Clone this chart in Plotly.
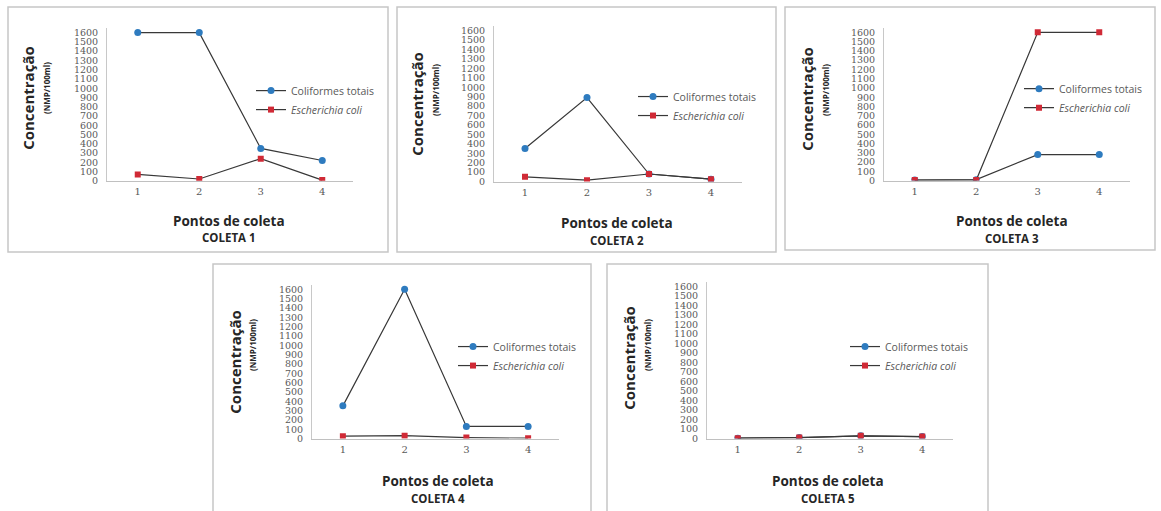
import plotly.graph_objects as go

W, H = 1161, 511

pontos = [1, 2, 3, 4]
y_ticks = list(range(0, 1700, 100))

coleta1_coliformes = [1600, 1600, 350, 220]
coleta1_ecoli = [70, 20, 240, 8]
coleta2_coliformes = [350, 890, 80, 25]
coleta2_ecoli = [50, 15, 80, 25]
coleta3_coliformes = [5, 10, 280, 280]
coleta3_ecoli = [5, 5, 1600, 1600]
coleta4_coliformes = [350, 1600, 130, 130]
coleta4_ecoli = [25, 30, 10, 3]
coleta5_coliformes = [3, 10, 28, 20]
coleta5_ecoli = [3, 10, 28, 20]

titles = ["COLETA 1", "COLETA 2", "COLETA 3", "COLETA 4", "COLETA 5"]
series = [
    (coleta1_coliformes, coleta1_ecoli),
    (coleta2_coliformes, coleta2_ecoli),
    (coleta3_coliformes, coleta3_ecoli),
    (coleta4_coliformes, coleta4_ecoli),
    (coleta5_coliformes, coleta5_ecoli),
]

# pixel layout per panel
panels = [
    dict(border=(8, 6, 388, 254), xax=(107, 353), y0=182, ytop=27.3, conc=(28, 98), nmp=(47, 88),
         xlab=229, pontos_y=223, coleta_y=239, leg=(251, 76)),
    dict(border=(397, 6, 776, 254), xax=(494, 742), y0=182.7, ytop=25.2, conc=(417, 104), nmp=(436, 90),
         xlab=617, pontos_y=225, coleta_y=242, leg=(633, 82)),
    dict(border=(785, 6, 1155, 252), xax=(884, 1130), y0=181.7, ytop=27, conc=(807, 99), nmp=(826, 90),
         xlab=1012, pontos_y=223, coleta_y=240, leg=(1019, 74)),
    dict(border=(213, 266, 591, 520), xax=(312, 559), y0=442.7, ytop=287, conc=(235, 365), nmp=(253, 348),
         xlab=438, pontos_y=486, coleta_y=503, leg=(453, 335)),
    dict(border=(607, 266, 988, 520), xax=(707, 953), y0=442.7, ytop=284.2, conc=(629, 361), nmp=(648, 348),
         xlab=828, pontos_y=486, coleta_y=503, leg=(845, 335)),
]

def px(x):
    return x / W

def py(y):
    return 1 - y / H

blue = "#2e7bbf"
red = "#d02a36"
line_col = "#383838"
grey_txt = "#595959"

fig = go.Figure()
layout = dict(
    width=W, height=H, margin=dict(l=0, r=0, t=0, b=0),
    paper_bgcolor="white", plot_bgcolor="white",
    showlegend=True, shapes=[], annotations=[],
)

for i, (p, (colif, ecoli)) in enumerate(zip(panels, series)):
    n = "" if i == 0 else str(i + 1)
    xa, ya = "x" + n, "y" + n
    leg = "legend" if i == 0 else "legend" + str(i + 1)
    fig.add_trace(go.Scatter(
        x=pontos, y=colif, xaxis=xa, yaxis=ya, mode="lines+markers",
        name="Coliformes totais", legend=leg, legendgroup="c%d" % i,
        line=dict(color=line_col, width=1.2),
        marker=dict(symbol="circle", size=7, color=blue),
    ))
    fig.add_trace(go.Scatter(
        x=pontos, y=ecoli, xaxis=xa, yaxis=ya, mode="lines+markers",
        name="<i>Escherichia coli</i>", legend=leg, legendgroup="e%d" % i,
        line=dict(color=line_col, width=1.2),
        marker=dict(symbol="square", size=6, color=red),
    ))
    layout["xaxis" + n] = dict(
        domain=[px(p["xax"][0]), px(p["xax"][1])], anchor=ya,
        range=[0.5, 4.5], tickvals=pontos, ticktext=[str(v) for v in pontos],
        showline=True, linecolor="#c0c0c0", linewidth=1.2, showgrid=False, zeroline=False,
        ticks="", tickfont=dict(family="DejaVu Serif", size=10, color=grey_txt),
        ticklabelstandoff=1, fixedrange=True,
    )
    layout["yaxis" + n] = dict(
        domain=[py(p["y0"]), py(p["ytop"])], anchor=xa,
        range=[0, 1650], tickvals=y_ticks, ticktext=[str(v) for v in y_ticks],
        showline=True, linecolor="#c8c8c8", linewidth=1, showgrid=False, zeroline=False,
        ticks="", tickfont=dict(family="DejaVu Serif", size=9.5, color=grey_txt),
        ticklabelstandoff=6, fixedrange=True,
    )
    layout[leg] = dict(
        x=px(p["leg"][0]), y=py(p["leg"][1]), xanchor="left", yanchor="top",
        bgcolor="rgba(0,0,0,0)", itemwidth=30, tracegroupgap=5, traceorder="normal",
        font=dict(family="Open Sans", size=10.5, color=grey_txt),
    )
    x0, y0, x1, y1 = p["border"]
    layout["shapes"].append(dict(
        type="rect", xref="paper", yref="paper",
        x0=px(x0), x1=px(x1), y0=py(y1), y1=py(y0),
        line=dict(color="#c6c6c6", width=1.5), fillcolor="rgba(0,0,0,0)", layer="below",
    ))
    layout["annotations"] += [
        dict(text="<b>Concentração</b>", x=px(p["conc"][0]), y=py(p["conc"][1]), xref="paper", yref="paper",
             textangle=-90, showarrow=False, xanchor="center", yanchor="middle",
             font=dict(family="Open Sans", size=15, color="#262626")),
        dict(text="<b>(NMP/100ml)</b>", x=px(p["nmp"][0]), y=py(p["nmp"][1]), xref="paper", yref="paper",
             textangle=-90, showarrow=False, xanchor="center", yanchor="middle",
             font=dict(family="Open Sans", size=8, color="#262626")),
        dict(text="<b>Pontos de coleta</b>", x=px(p["xlab"]), y=py(p["pontos_y"]), xref="paper", yref="paper",
             showarrow=False, xanchor="center", yanchor="middle",
             font=dict(family="Open Sans", size=13.5, color="#262626")),
        dict(text="<b>" + titles[i] + "</b>", x=px(p["xlab"]), y=py(p["coleta_y"]), xref="paper", yref="paper",
             showarrow=False, xanchor="center", yanchor="middle",
             font=dict(family="Open Sans", size=11.5, color="#262626")),
    ]

fig.update_layout(**layout)
fig.write_html("out.html", config={"displayModeBar": False},
               post_script="document.body.style.margin='0px';document.body.style.padding='0px';")
